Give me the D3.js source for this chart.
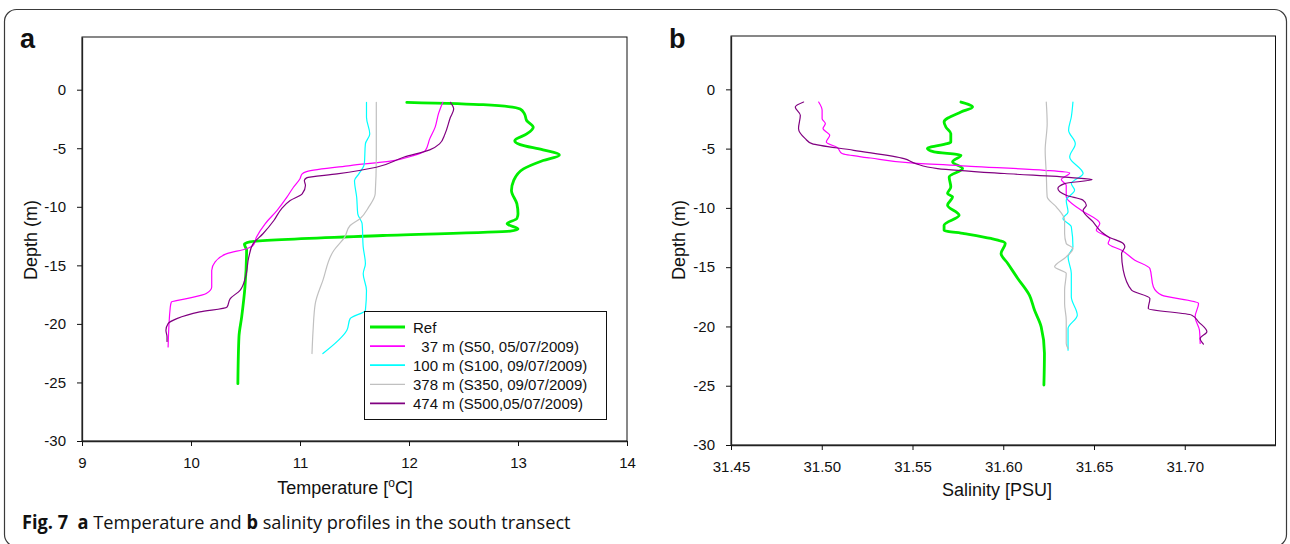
<!DOCTYPE html>
<html><head><meta charset="utf-8">
<script src="https://cdn.jsdelivr.net/npm/d3@7"></script>
<style>
body{margin:0;background:#fff}
svg{display:block}
text{font-family:"Liberation Sans",Arial,sans-serif;fill:#111}
</style>
</head><body>
<svg id="c" width="1290" height="544"></svg>
<script>
// ---------------- DATA (depth m, value) ----------------
const depthTicks = [0, -5, -10, -15, -20, -25, -30];
const tempTicks = [9, 10, 11, 12, 13, 14];
const salTicks = [31.45, 31.50, 31.55, 31.60, 31.65, 31.70];
const seriesNames = ["Ref", "  37 m (S50, 05/07/2009)", "100 m (S100, 09/07/2009)", "378 m (S350, 09/07/2009)", "474 m (S500,05/07/2009)"];

const tempRef = [[-1.08,11.98],[-1.28,12.68],[-1.65,13.02],[-2.07,13.06],[-2.64,13.08],[-3.2,13.14],[-3.78,13.08],[-4.35,12.97],[-4.69,13.02],[-5.14,13.23],[-5.57,13.38],[-6.05,13.23],[-6.76,13.05],[-7.76,12.96],[-8.6,12.94],[-9.75,12.99],[-10.6,13.0],[-11.0,12.99],[-11.45,12.9],[-11.9,13.0],[-12.08,12.93],[-12.45,11.76],[-13.0,10.54],[-13.2,10.49],[-13.7,10.51],[-16.85,10.495],[-19.4,10.465],[-21.1,10.44],[-25.1,10.43]];
const tempS50 = [[-1.08,12.31],[-2.07,12.27],[-3.2,12.24],[-4.2,12.19],[-5.2,12.15],[-5.63,12.04],[-6.1,11.83],[-6.48,11.46],[-6.99,11.06],[-7.19,11.02],[-7.6,11.0],[-8.33,10.94],[-9.18,10.88],[-10.3,10.79],[-11.45,10.68],[-12.6,10.6],[-13.3,10.57],[-13.58,10.51],[-14.0,10.33],[-14.72,10.22],[-15.43,10.19],[-16.85,10.19],[-17.4,10.14],[-17.84,9.96],[-18.13,9.82],[-18.56,9.81],[-21.97,9.79]];
const tempS100 = [[-1.08,11.61],[-2.36,11.61],[-3.78,11.64],[-4.63,11.6],[-6.33,11.59],[-7.19,11.54],[-7.76,11.5],[-9.18,11.52],[-10.6,11.53],[-11.45,11.57],[-13.44,11.58],[-14.86,11.6],[-15.71,11.58],[-17.14,11.61],[-18.84,11.6],[-19.55,11.46],[-20.55,11.43],[-22.53,11.21]];
const tempS350 = [[-1.08,11.7],[-2.93,11.7],[-5.77,11.7],[-8.89,11.69],[-10.03,11.63],[-11.02,11.55],[-11.6,11.46],[-12.59,11.41],[-13.73,11.31],[-16.28,11.21],[-18.27,11.14],[-20.55,11.12],[-22.53,11.11]];
const tempS500 = [[-1.08,12.38],[-1.65,12.41],[-2.36,12.38],[-3.78,12.33],[-4.63,12.28],[-5.14,12.19],[-5.77,11.95],[-6.62,11.7],[-7.19,11.34],[-7.53,11.06],[-7.76,11.04],[-8.18,11.05],[-8.89,11.02],[-9.46,10.91],[-10.17,10.83],[-11.17,10.76],[-12.3,10.66],[-13.15,10.57],[-14.3,10.53],[-16.0,10.5],[-17.13,10.45],[-17.84,10.36],[-18.56,10.33],[-18.98,10.08],[-19.55,9.87],[-19.98,9.79],[-20.55,9.77],[-21.1,9.78],[-21.5,9.78]];

const salRef = [[-1.07,31.5767],[-1.49,31.5831],[-1.91,31.5767],[-2.75,31.5674],[-3.18,31.5684],[-3.73,31.5711],[-4.44,31.5711],[-5.0,31.5582],[-5.28,31.5619],[-5.56,31.5767],[-6.12,31.5721],[-6.68,31.5776],[-7.39,31.5702],[-8.23,31.5711],[-8.79,31.5693],[-9.07,31.5721],[-9.77,31.5693],[-10.62,31.5757],[-11.46,31.5674],[-11.88,31.5674],[-12.16,31.5785],[-12.58,31.5932],[-13.0,31.6011],[-13.85,31.5988],[-14.69,31.6025],[-15.95,31.608],[-17.36,31.6144],[-18.62,31.6172],[-20.03,31.6209],[-22.27,31.6227],[-24.94,31.6224]];
const salS50 = [[-1.07,31.4983],[-1.77,31.5002],[-2.47,31.5002],[-2.89,31.502],[-3.31,31.5007],[-3.88,31.5044],[-4.44,31.5025],[-4.91,31.5085],[-5.42,31.5112],[-5.79,31.5269],[-6.21,31.549],[-6.49,31.5822],[-6.83,31.6227],[-7.05,31.6366],[-7.61,31.632],[-8.09,31.6347],[-9.07,31.6347],[-10.2,31.643],[-11.32,31.6532],[-11.88,31.6513],[-12.58,31.6587],[-13.0,31.6578],[-13.57,31.6652],[-14.41,31.6725],[-15.11,31.6808],[-16.65,31.6827],[-17.36,31.6873],[-18.06,31.7076],[-19.19,31.7057],[-20.31,31.7081],[-21.43,31.7085]];
const salS100 = [[-1.07,31.6384],[-2.33,31.6375],[-3.45,31.636],[-4.58,31.6397],[-5.7,31.6366],[-7.1,31.644],[-7.95,31.6375],[-8.51,31.6393],[-9.35,31.6347],[-10.34,31.6357],[-10.9,31.6329],[-11.6,31.6375],[-13.28,31.6384],[-14.13,31.6357],[-15.53,31.6375],[-17.5,31.6375],[-19.05,31.6408],[-20.17,31.6357],[-22.0,31.6357]];
const salS350 = [[-1.07,31.6237],[-2.89,31.6242],[-5.14,31.6231],[-7.1,31.6237],[-9.07,31.6242],[-9.91,31.6292],[-11.04,31.6338],[-12.16,31.6338],[-13.0,31.6347],[-13.42,31.6384],[-14.13,31.6347],[-14.97,31.6283],[-15.53,31.6347],[-16.94,31.6338],[-18.06,31.6338],[-19.47,31.6347],[-21.43,31.6347],[-21.85,31.6357]];
const salS500 = [[-1.07,31.49],[-1.49,31.4854],[-2.19,31.4882],[-3.31,31.4872],[-4.16,31.4909],[-4.58,31.4946],[-5.14,31.5176],[-5.84,31.5453],[-6.26,31.5518],[-6.68,31.5638],[-7.1,31.6006],[-7.44,31.6375],[-7.61,31.649],[-7.95,31.6338],[-8.37,31.6301],[-8.93,31.6347],[-9.35,31.644],[-9.77,31.6458],[-10.2,31.644],[-11.18,31.6495],[-12.02,31.6541],[-12.44,31.6578],[-13.0,31.6661],[-13.28,31.667],[-13.85,31.6652],[-15.25,31.6661],[-16.94,31.6707],[-17.64,31.6808],[-18.48,31.6799],[-19.05,31.7039],[-19.61,31.7076],[-20.45,31.7122],[-21.01,31.7085],[-21.49,31.7103]];

// ---------------- STYLES ----------------
const colors = ["#00ee00", "#ff00ff", "#00ffff", "#c0c0c0", "#800080"];
const widths = [2.8, 1.2, 1.2, 1.2, 1.2];

const svg = d3.select("#c");

// outer rounded border
svg.append("rect").attr("x", 4.5).attr("y", 9.5).attr("width", 1282).attr("height", 537)
  .attr("rx", 12).attr("fill", "none").attr("stroke", "#3a3a3a").attr("stroke-width", 1.2);

function panel(o) {
  const g = svg.append("g");
  const x = d3.scaleLinear().domain(o.xDomain).range([o.left, o.right]);
  const y = d3.scaleLinear().domain([-30, 4.5]).range([o.bottom, o.top]);

  // frame
  g.append("rect").attr("x", o.left).attr("y", o.top)
    .attr("width", o.right - o.left).attr("height", o.bottom - o.top)
    .attr("fill", "none").attr("stroke", "#111").attr("stroke-width", 1);

  const xa = g.append("g").attr("transform", `translate(0,${o.bottom})`)
    .call(d3.axisBottom(x).tickValues(o.xTicks).tickSize(5).tickPadding(11).tickSizeOuter(0).tickFormat(o.fmt));
  const ya = g.append("g").attr("transform", `translate(${o.left},0)`)
    .call(d3.axisLeft(y).tickValues(depthTicks).tickSize(5).tickPadding(11).tickSizeOuter(0).tickFormat(d => String(d)));
  [xa, ya].forEach(a => {
    a.select(".domain").attr("stroke", "#222").attr("stroke-width", 1.3);
    a.selectAll(".tick line").attr("stroke", "#111");
    a.selectAll(".tick text").style("font-size", "15px").style("font-family", '"Liberation Sans",Arial,sans-serif').attr("fill", "#111");
  });

  const line = d3.line().x(d => x(d[1])).y(d => y(d[0])).curve(d3.curveMonotoneY);
  o.series.forEach((s, i) => {
    g.append("path").attr("d", line(s)).attr("fill", "none")
      .attr("stroke", colors[i]).attr("stroke-width", widths[i])
      .attr("stroke-linejoin", "round").attr("stroke-linecap", "round");
  });

  // panel letter
  g.append("text").attr("x", o.letterX).attr("y", 48).text(o.letter)
    .style("font-size", "27px").style("font-weight", "bold");

  // axis titles
  const xt = g.append("text").attr("x", o.xTitleX).attr("y", o.xTitleY).attr("text-anchor", "middle")
    .style("font-size", "18px");
  o.xTitle(xt);
  g.append("text").attr("transform", `translate(${o.yTitleX},240) rotate(-90)`).attr("text-anchor", "middle")
    .style("font-size", "18px").text("Depth (m)");
  return {g, x, y};
}

const pa = panel({
  xDomain: [9, 14], left: 82, right: 627, top: 37, bottom: 441,
  xTicks: tempTicks, fmt: d3.format("d"),
  series: [tempRef, tempS50, tempS100, tempS350, tempS500],
  letter: "a", letterX: 20, xTitleX: 345, xTitleY: 494, yTitleX: 37,
  xTitle: t => {
    t.append("tspan").text("Temperature [");
    t.append("tspan").attr("dy", -7).style("font-size", "12px").text("o");
    t.append("tspan").attr("dy", 7).text("C]");
  }
});

panel({
  xDomain: [31.45, 31.75], left: 731, right: 1275.5, top: 36, bottom: 445,
  xTicks: salTicks, fmt: d3.format(".2f"),
  series: [salRef, salS50, salS100, salS350, salS500],
  letter: "b", letterX: 669, xTitleX: 997, xTitleY: 496, yTitleX: 685,
  xTitle: t => t.text("Salinity [PSU]")
});

// legend (panel a)
const lg = svg.append("g");
lg.append("rect").attr("x", 364.5).attr("y", 311.5).attr("width", 242).attr("height", 108)
  .attr("fill", "#fff").attr("stroke", "#111").attr("stroke-width", 1);
seriesNames.forEach((n, i) => {
  const yy = 327 + i * 19.1;
  lg.append("line").attr("x1", 370).attr("x2", 405).attr("y1", yy).attr("y2", yy)
    .attr("stroke", colors[i]).attr("stroke-width", i === 0 ? 2.8 : (i === 3 ? 1.2 : 1.8));
  lg.append("text").attr("x", 413).attr("y", yy + 5.5).style("font-size", "15px")
    .style("white-space", "pre").attr("xml:space", "preserve").text(n);
});

// caption
const cap = svg.append("text").attr("x", 22).attr("y", 529)
  .style("font-family", '"Open Sans","Noto Sans",sans-serif').style("font-size", "19px").attr("fill", "#222")
  .attr("xml:space", "preserve").style("white-space", "pre");
cap.append("tspan").style("font-weight", "bold").text("Fig. 7");
cap.append("tspan").text("  ");
cap.append("tspan").style("font-weight", "bold").text("a");
cap.append("tspan").text(" Temperature and ");
cap.append("tspan").style("font-weight", "bold").text("b");
cap.append("tspan").text(" salinity profiles in the south transect");
const w = cap.node().getComputedTextLength();
const sx = 549 / w;
cap.attr("transform", `translate(22,0) scale(${sx},1) translate(-22,0)`);
</script>
</body></html>
